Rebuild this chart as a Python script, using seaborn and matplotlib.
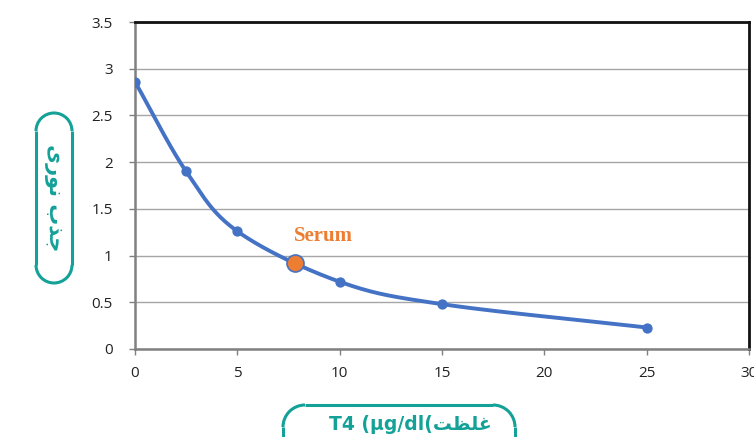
import numpy as np
import pandas as pd
import matplotlib
matplotlib.use("Agg")
import matplotlib.pyplot as plt
import seaborn as sns
from matplotlib.patches import Arc

# ---- data ----
conc = [0, 2.5, 5, 10, 15, 25]
absorb = [2.86, 1.90, 1.26, 0.72, 0.48, 0.23]
serum_x = [7.8]
serum_y = [0.92]
x_ticks = [0, 5, 10, 15, 20, 25, 30]
y_ticks = [0, 0.5, 1, 1.5, 2, 2.5, 3, 3.5]
serum_label = "Serum"
# Arabic labels, written in visual order with presentation forms
ylabel_text = "\uFBFC\uFEAD\uFEEE\uFEE7 \uFE8F\uFEAC\uFE9F"   # جذب نوری
xlabel_text = "T4 (\u00b5g/dl(" + "\uFE96\uFEC8\uFEE0\uFECF"  # غلظت(µg/dl) T4

def catmull_rom(xs, ys, n=40):
    xs = np.asarray(xs, float); ys = np.asarray(ys, float)
    P = np.column_stack([xs, ys])
    P = np.vstack([2 * P[0] - P[1], P, 2 * P[-1] - P[-2]])
    out = []
    t = np.linspace(0, 1, n)[:, None]
    for i in range(1, len(P) - 2):
        p0, p1, p2, p3 = P[i - 1], P[i], P[i + 1], P[i + 2]
        seg = 0.5 * ((2 * p1) + (-p0 + p2) * t + (2 * p0 - 5 * p1 + 4 * p2 - p3) * t ** 2
                     + (-p0 + 3 * p1 - 3 * p2 + p3) * t ** 3)
        out.append(seg if i == 1 else seg[1:])
    S = np.vstack(out)
    return S[:, 0], S[:, 1]

sx, sy = catmull_rom(conc, absorb)
curve = pd.DataFrame({"x": sx, "y": sy})
pts = pd.DataFrame({"x": conc, "y": absorb})
serum = pd.DataFrame({"x": serum_x, "y": serum_y})

sns.set_style("white")
plt.rcParams["font.family"] = ["Open Sans", "DejaVu Sans"]

W, H = 754, 437
fig = plt.figure(figsize=(W / 100, H / 100), dpi=100)
ax = fig.add_axes([135 / W, 1 - 349 / H, (749 - 135) / W, (349 - 22) / H])

blue = "#4472C4"
orange = "#ED7D31"
teal = "#14A198"

sns.lineplot(data=curve, x="x", y="y", ax=ax, color=blue, linewidth=2.8, sort=False, zorder=3)
sns.scatterplot(data=pts, x="x", y="y", ax=ax, color=blue, s=55, edgecolor=blue, linewidth=0, zorder=4)
sns.scatterplot(data=serum, x="x", y="y", ax=ax, color=orange, s=150, edgecolor=blue, linewidth=1.2, zorder=5)
ax.text(serum_x[0] + 1.39, serum_y[0] + 0.29, serum_label, color=orange, fontsize=15, fontweight="bold",
        family="Liberation Serif", ha="center", va="center")

ax.set_xlim(0, 30)
ax.set_ylim(0, 3.5)
ax.set_xticks(x_ticks)
ax.set_yticks(y_ticks)
ax.set_xticklabels([str(v) for v in x_ticks])
ax.set_yticklabels([("%g" % v) for v in y_ticks])
ax.set_xlabel("")
ax.set_ylabel("")
ax.yaxis.grid(True, color="#A6A6A6", linewidth=1.0)
ax.xaxis.grid(False)
ax.tick_params(axis="both", labelsize=11, colors="#222222", length=4, direction="out", width=1)
ax.tick_params(axis="x", pad=8, colors="#808080", labelcolor="#222222")
ax.tick_params(axis="y", pad=12, colors="#808080", labelcolor="#222222")
ax.tick_params(left=True, bottom=True)
for s in ["left", "bottom"]:
    ax.spines[s].set_color("#808080")
    ax.spines[s].set_linewidth(1.8)
for s in ["top", "right"]:
    ax.spines[s].set_color("#111111")
    ax.spines[s].set_linewidth(2.0)

# overlay in pixel coordinates (y measured upward: py -> H - py)
ov = fig.add_axes([0, 0, 1, 1], zorder=-1)
ov.set_xlim(0, W)
ov.set_ylim(0, H)
ov.axis("off")
lw = 2.2

def Y(py):
    return H - py

def pill_vertical(x0, y0, w, h):
    r = w / 2
    cx = x0 + r
    ov.add_patch(Arc((cx, Y(y0 + r)), w, w, theta1=0, theta2=180, color=teal, lw=lw))
    ov.add_patch(Arc((cx, Y(y0 + h - r)), w, w, theta1=180, theta2=360, color=teal, lw=lw))
    ov.plot([x0, x0], [Y(y0 + r), Y(y0 + h - r)], color=teal, lw=lw, solid_capstyle="butt")
    ov.plot([x0 + w, x0 + w], [Y(y0 + r), Y(y0 + h - r)], color=teal, lw=lw, solid_capstyle="butt")

def rounded_top(x0, y0, w, r, ybot):
    ov.add_patch(Arc((x0 + r, Y(y0 + r)), 2 * r, 2 * r, theta1=90, theta2=180, color=teal, lw=lw))
    ov.add_patch(Arc((x0 + w - r, Y(y0 + r)), 2 * r, 2 * r, theta1=0, theta2=90, color=teal, lw=lw))
    ov.plot([x0 + r, x0 + w - r], [Y(y0), Y(y0)], color=teal, lw=lw, solid_capstyle="butt")
    ov.plot([x0, x0], [Y(y0 + r), Y(ybot)], color=teal, lw=lw, solid_capstyle="butt")
    ov.plot([x0 + w, x0 + w], [Y(y0 + r), Y(ybot)], color=teal, lw=lw, solid_capstyle="butt")

pill_vertical(36, 113, 36, 170)
ov.text(54, Y(198), ylabel_text, rotation=-90, color=teal, fontsize=15, fontweight="bold",
        ha="center", va="center", family=["DejaVu Sans"])

rounded_top(283, 405, 232, 22, 445)
ov.text(410, Y(424), xlabel_text, color=teal, fontsize=13.5, fontweight="bold",
        ha="center", va="center", family=["DejaVu Sans"])
ov.set_xlim(0, W)
ov.set_ylim(0, H)

fig.savefig("out.png", dpi=100)
